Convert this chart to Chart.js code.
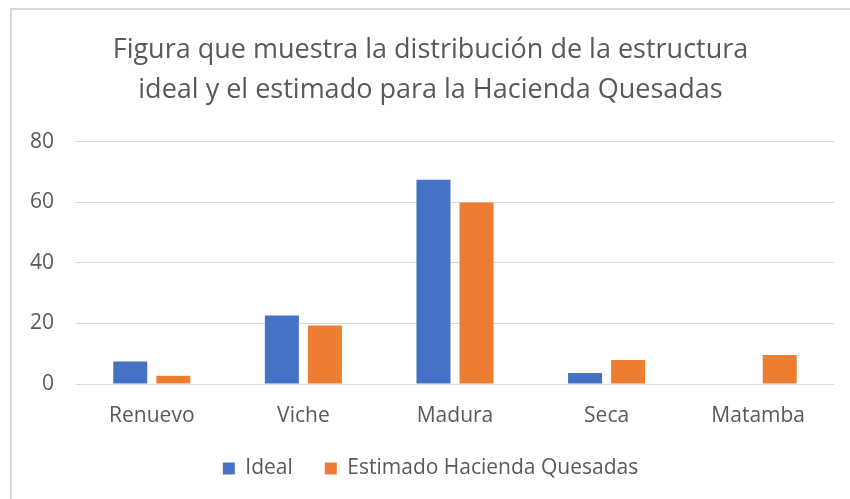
<!DOCTYPE html>
<html>
<head>
<meta charset="utf-8">
<script src="https://cdn.jsdelivr.net/npm/chart.js@4.4.1/dist/chart.umd.min.js"></script>
<style>
  html, body { margin: 0; padding: 0; background: #fff; overflow: hidden; }
  #wrap { position: relative; width: 850px; height: 499px; }
  #frame { position: absolute; left: 10px; top: 8px; width: 900px; height: 600px;
           border-top: 2px solid #d9d9d9; border-left: 2px solid #d9d9d9; box-sizing: border-box; }
  canvas { position: absolute; left: 0; top: 0; }
</style>
</head>
<body>
<div id="wrap">
  <div id="frame"></div>
  <canvas id="c" width="850" height="499"></canvas>
</div>
<script>
const categories = ["Renuevo", "Viche", "Madura", "Seca", "Matamba"];
const idealValues = [7.4, 22.6, 67.5, 3.6, 0];
const estimadoValues = [2.7, 19.3, 60, 7.9, 9.6];
const seriesNames = ["Ideal", "Estimado Hacienda Quesadas"];
const titleLines = ["Figura que muestra la distribución de la estructura", "ideal y el estimado para la Hacienda Quesadas"];
const yTickStep = 20;

const FONT = "'Open Sans', sans-serif";
const GRAY = "#595959";

new Chart(document.getElementById("c"), {
  type: "bar",
  data: {
    labels: categories,
    datasets: [
      { label: seriesNames[0], data: idealValues, backgroundColor: "#4472C4", borderWidth: 0,
        barPercentage: 0.79, categoryPercentage: 0.568 },
      { label: seriesNames[1], data: estimadoValues, backgroundColor: "#ED7D31", borderWidth: 0,
        barPercentage: 0.79, categoryPercentage: 0.568 }
    ]
  },
  options: {
    responsive: false,
    animation: false,
    devicePixelRatio: 1,
    layout: { padding: { left: 27, right: 16, top: 0, bottom: 10 } },
    plugins: {
      title: {
        display: true,
        text: titleLines,
        color: GRAY,
        font: { family: FONT, size: 27, weight: "normal", lineHeight: 1.48 },
        padding: { top: 30, bottom: 32 }
      },
      legend: {
        position: "bottom",
        labels: {
          color: GRAY,
          font: { family: FONT, size: 21 },
          boxWidth: 12, boxHeight: 12, padding: 32
        }
      },
      tooltip: { enabled: false }
    },
    scales: {
      y: {
        min: 0, max: 80,
        ticks: { stepSize: yTickStep, color: GRAY, font: { family: FONT, size: 21 }, padding: 22 },
        grid: { color: "#d9d9d9", lineWidth: 1, drawTicks: false },
        border: { display: false },
        afterFit: (s) => { s.width = 49; }
      },
      x: {
        ticks: { color: GRAY, font: { family: FONT, size: 21 }, padding: 19 },
        grid: { display: false, drawTicks: false },
        border: { display: false },
        afterFit: (s) => { s.height = 42; }
      }
    }
  }
});
</script>
</body>
</html>
